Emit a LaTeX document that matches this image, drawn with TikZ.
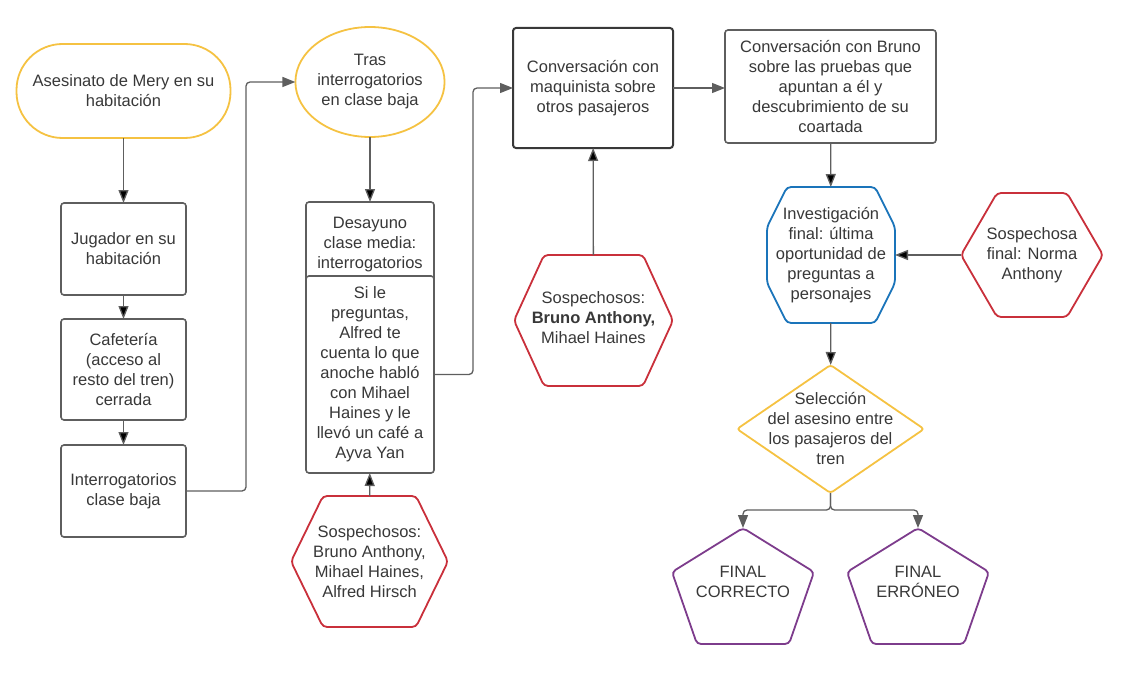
\documentclass[tikz,border=0pt]{standalone}
\usepackage{fontspec}
\setmainfont{Liberation Sans}
\usetikzlibrary{arrows.meta,calc,shapes.geometric}

\definecolor{linegray}{HTML}{5E5E5E}
\definecolor{textgray}{HTML}{383838}
\definecolor{lucyellow}{HTML}{F5C242}
\definecolor{lucred}{HTML}{C9303B}
\definecolor{lucblue}{HTML}{1A74BA}
\definecolor{lucpurple}{HTML}{7D3C8C}

% frames drawn round a (borderless) text node
\newcommand{\hexframe}[3][]{%
  \draw[#1] ([xshift=#3]#2.north west) -- ([xshift=-#3]#2.north east) -- (#2.east)
    -- ([xshift=-#3]#2.south east) -- ([xshift=#3]#2.south west) -- (#2.west) -- cycle;}
\newcommand{\octframe}[4][]{%
  \draw[#1] ([xshift=#3]#2.north west) -- ([xshift=-#3]#2.north east)
    -- ([yshift=-#4]#2.north east) -- ([yshift=#4]#2.south east)
    -- ([xshift=-#3]#2.south east) -- ([xshift=#3]#2.south west)
    -- ([yshift=#4]#2.south west) -- ([yshift=-#4]#2.north west) -- cycle;}
\newcommand{\pentframe}[4][]{%
  \draw[#1] (#2.north) -- ([yshift=-#3]#2.north east) -- ([xshift=-#4]#2.south east)
    -- ([xshift=#4]#2.south west) -- ([yshift=-#3]#2.north west) -- cycle;}
\newcommand{\diamframe}[2][]{%
  \draw[#1] (#2.north) -- (#2.east) -- (#2.south) -- (#2.west) -- cycle;}

\begin{document}
\begin{tikzpicture}[x=1pt, y=-1pt,
    every node/.style={align=center, text=textgray, font=\fontsize{16.5}{20}\selectfont,
      inner sep=0pt, outer sep=0pt},
    box/.style={draw=linegray, line width=1.6pt, rounded corners=3pt, fill=white},
    term/.style={draw=lucyellow, line width=1.8pt, rounded corners=46pt},
    oval/.style={draw=lucyellow, line width=1.8pt, shape=ellipse},
    redline/.style={draw=lucred, line width=1.8pt, rounded corners=4pt},
    blueline/.style={draw=lucblue, line width=1.8pt, rounded corners=4pt},
    yelline/.style={draw=lucyellow, line width=1.8pt, rounded corners=3pt},
    purpline/.style={draw=lucpurple, line width=1.8pt, rounded corners=4pt},
    flow/.style={draw=linegray, line width=1.3pt, rounded corners=4pt,
      -{Triangle[length=13pt,width=10pt]}}]
    \useasboundingbox (0,0) rectangle (1126,674);

    % left column
    \node[term, minimum width=214, minimum height=94] (mery) at (123.5, 91) {Asesinato de Mery en su\\habitación};
    \node[box, minimum width=125, minimum height=92] (jugador) at (123.5, 249) {Jugador en su\\habitación};
    \node[box, minimum width=125, minimum height=101] (cafe) at (123.5, 369.5) {Cafetería\\(acceso al\\resto del tren)\\cerrada};
    \node[box, minimum width=125, minimum height=92] (baja) at (123.5, 491) {Interrogatorios\\clase baja};

    % second column
    \node[oval, minimum width=124, minimum height=110] (tras) at (370, 82) {Tras\\interrogatorios\\en clase baja};
    \node[box, minimum width=128, minimum height=86] (desayuno) at (370, 245) {Desayuno\\clase media:\\interrogatorios};
    \node[box, minimum width=128, minimum height=197] (alfred) at (370, 374.5) {Si le\\preguntas,\\Alfred te\\cuenta lo que\\anoche habló\\con Mihael\\Haines y le\\llevó un café a\\Ayva Yan};
    \node[minimum width=157, minimum height=131] (sosp1) at (369.5, 561.5) {Sospechosos:\\Bruno Anthony,\\Mihael Haines,\\Alfred Hirsch};
    \hexframe[redline]{sosp1}{32pt}

    % third column
    \node[box, draw=textgray, line width=2pt, minimum width=160, minimum height=120] (maquinista) at (593, 88) {Conversación con\\maquinista sobre\\otros pasajeros};
    \node[minimum width=159, minimum height=131, text depth=6pt] (sosp2) at (593.5, 320.5) {Sospechosos:\\\textbf{Bruno Anthony,}\\Mihael Haines};
    \hexframe[redline]{sosp2}{30pt}

    % right part
    \node[box, minimum width=211, minimum height=113] (bruno) at (830.5, 86.5) {Conversación con Bruno\\sobre las pruebas que\\apuntan a él y\\descubrimiento de su\\coartada};
    \node[minimum width=128, minimum height=136] (final) at (831, 255) {Investigación\\final: última\\oportunidad de\\preguntas a\\personajes};
    \octframe[blueline]{final}{20pt}{40pt}
    \node[minimum width=142, minimum height=124] (norma) at (1032, 255) {Sospechosa\\final: Norma\\Anthony};
    \hexframe[redline]{norma}{36pt}
    \node[minimum width=187, minimum height=128] (seleccion) at (830.5, 429) {Selección\\del asesino entre\\los pasajeros del\\tren};
    \diamframe[yelline]{seleccion}
    \node[minimum width=142, minimum height=116, text depth=8pt] (correcto) at (743, 586) {FINAL\\CORRECTO};
    \pentframe[purpline]{correcto}{44pt}{25pt}
    \node[minimum width=142, minimum height=116, text depth=8pt] (erroneo) at (918, 586) {FINAL\\ERRÓNEO};
    \pentframe[purpline]{erroneo}{44pt}{25pt}

    % connectors
    \path[flow]
    (mery) edge (jugador)
    (jugador) edge (cafe)
    (cafe) edge (baja)
    (tras) edge (desayuno)
    (sosp1) edge (alfred)
    (sosp2) edge (maquinista)
    (bruno) edge (final)
    (norma) edge (final)
    (final) edge (seleccion);
    \draw[flow] (baja.east) -- ++(60,0) |- (tras.west);
    \draw[flow] (alfred.east) -- ++(39,0) |- (maquinista.west);
    \draw[flow] (maquinista.east) -- (maquinista.east -| bruno.west);
    \draw[flow] (seleccion.south) -- ++(0,17) -| (correcto.north);
    \draw[flow] (seleccion.south) -- ++(0,17) -| (erroneo.north);
\end{tikzpicture}
\end{document}
